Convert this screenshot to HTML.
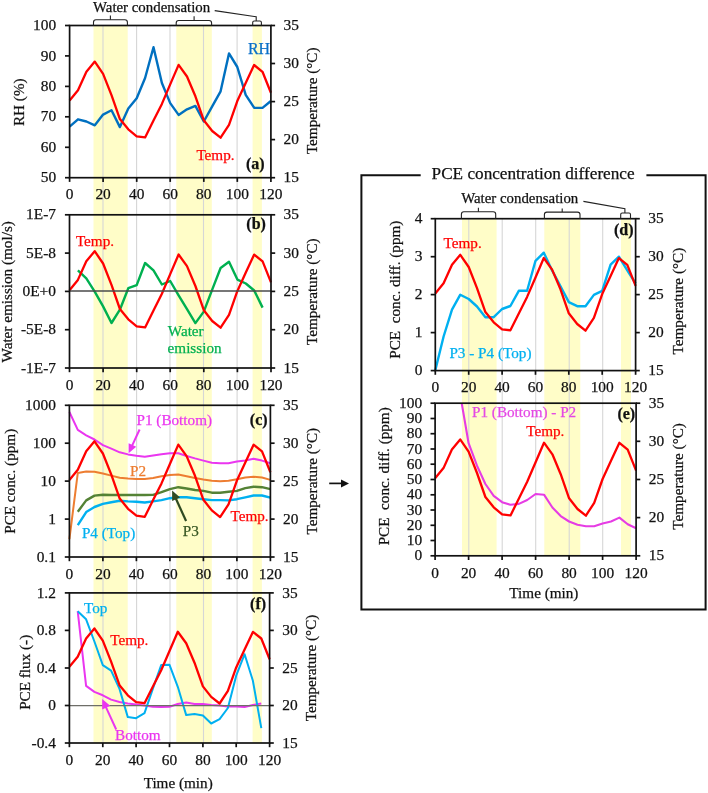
<!DOCTYPE html>
<html><head><meta charset="utf-8"><title>Chart</title>
<style>html,body{margin:0;padding:0;background:#fff;width:708px;height:793px;overflow:hidden}svg{display:block;will-change:transform}text{stroke-width:0.25px;paint-order:fill}</style>
</head><body>
<svg width="708" height="793" viewBox="0 0 708 793">
<defs>
<clipPath id="clipa"><rect x="69.6" y="25.5" width="201.3" height="152.2"/></clipPath>
<clipPath id="clipb"><rect x="69.5" y="214.8" width="201.5" height="153.2"/></clipPath>
<clipPath id="clipc"><rect x="69.4" y="405.3" width="201.0" height="151.7"/></clipPath>
<clipPath id="clipf"><rect x="69.4" y="592.9" width="200.2" height="150.1"/></clipPath>
<clipPath id="clipd"><rect x="435.3" y="218.7" width="200.3" height="151.9"/></clipPath>
<clipPath id="clipe"><rect x="435.1" y="403.2" width="201.0" height="152.6"/></clipPath>
</defs>
<rect x="93.5" y="25.5" width="34.2" height="717.5" fill="#FFFDC8"/>
<rect x="176.3" y="25.5" width="35.5" height="717.5" fill="#FFFDC8"/>
<rect x="252.6" y="25.5" width="9.3" height="717.5" fill="#FFFDC8"/>
<line x1="103.0" y1="25.5" x2="103.0" y2="743.0" stroke="#D6D6D6" stroke-width="1.1"/>
<line x1="136.6" y1="25.5" x2="136.6" y2="743.0" stroke="#D6D6D6" stroke-width="1.1"/>
<line x1="170.0" y1="25.5" x2="170.0" y2="743.0" stroke="#D6D6D6" stroke-width="1.1"/>
<line x1="203.5" y1="25.5" x2="203.5" y2="743.0" stroke="#D6D6D6" stroke-width="1.1"/>
<line x1="237.1" y1="25.5" x2="237.1" y2="743.0" stroke="#D6D6D6" stroke-width="1.1"/>
<rect x="462.0" y="218.7" width="34.6" height="337.1" fill="#FFFDC8"/>
<rect x="544.3" y="218.7" width="36.0" height="337.1" fill="#FFFDC8"/>
<rect x="621.0" y="218.7" width="10.0" height="337.1" fill="#FFFDC8"/>
<line x1="468.8" y1="218.7" x2="468.8" y2="555.8" stroke="#D6D6D6" stroke-width="1.1"/>
<line x1="502.2" y1="218.7" x2="502.2" y2="555.8" stroke="#D6D6D6" stroke-width="1.1"/>
<line x1="535.7" y1="218.7" x2="535.7" y2="555.8" stroke="#D6D6D6" stroke-width="1.1"/>
<line x1="569.2" y1="218.7" x2="569.2" y2="555.8" stroke="#D6D6D6" stroke-width="1.1"/>
<line x1="602.7" y1="218.7" x2="602.7" y2="555.8" stroke="#D6D6D6" stroke-width="1.1"/>
<polyline points="69.6,126.7 78.0,119.3 86.4,121.5 94.8,125.3 103.1,114.6 111.5,110.3 119.9,127.1 128.3,108.4 136.7,98.2 145.1,78.0 153.5,47.2 161.9,83.0 170.2,103.1 178.6,114.9 187.0,109.3 195.4,105.9 203.8,121.5 212.2,106.3 220.6,91.3 229.0,53.4 237.3,67.0 245.7,94.8 254.1,107.7 262.5,107.9 270.9,101.0" fill="none" stroke="#0070C0" stroke-width="2.4" stroke-linejoin="round"/>
<polyline points="69.6,100.4 78.0,90.2 86.4,71.7 94.8,61.6 103.1,73.9 111.5,95.1 119.9,119.1 128.3,129.3 136.7,136.3 145.1,137.4 153.5,120.6 161.9,103.9 170.2,84.4 178.6,64.9 187.0,76.5 195.4,96.3 203.8,120.3 212.2,131.0 220.6,137.7 229.0,124.9 237.3,101.1 245.7,83.0 254.1,65.0 262.5,71.8 270.9,92.7" fill="none" stroke="#FF0000" stroke-width="2.3" stroke-linejoin="round"/>
<polyline points="77.9,270.4 86.3,278.3 94.7,291.6 103.1,306.4 111.5,323.0 119.9,309.7 128.3,288.2 136.7,285.2 145.1,263.0 153.5,270.4 161.9,284.5 170.2,281.0 178.6,295.3 187.0,309.2 195.4,323.1 203.8,311.6 212.2,289.6 220.6,268.0 229.0,261.8 237.4,279.6 245.8,283.5 254.2,290.5 262.6,307.6" fill="none" stroke="#00B050" stroke-width="2.4" stroke-linejoin="round"/>
<polyline points="69.5,290.2 77.9,279.9 86.3,261.3 94.7,251.2 103.1,263.5 111.5,284.9 119.9,309.0 128.3,319.3 136.7,326.3 145.1,327.4 153.5,310.6 161.9,293.7 170.2,274.1 178.6,254.5 187.0,266.1 195.4,286.0 203.8,310.2 212.2,321.0 220.6,327.7 229.0,314.8 237.4,290.9 245.8,272.6 254.2,254.6 262.6,261.4 271.0,282.4" fill="none" stroke="#FF0000" stroke-width="2.3" stroke-linejoin="round"/>
<line x1="69.5" y1="291.0" x2="271.0" y2="291.0" stroke="#4a4a4a" stroke-width="1.4"/>
<polyline points="69.4,412.0 77.8,429.9 86.2,435.3 94.5,439.5 102.9,445.2 111.3,448.7 119.7,452.3 128.0,454.4 136.4,455.8 144.8,456.8 153.1,455.5 161.5,454.2 169.9,453.2 178.3,453.2 186.6,456.0 195.0,458.4 203.4,460.6 211.8,462.8 220.1,463.3 228.5,463.3 236.9,461.5 245.3,460.6 253.6,458.8 262.0,460.6 270.4,463.3" fill="none" stroke="#EA36F0" stroke-width="2.0" stroke-linejoin="round"/>
<polyline points="69.4,539.2 77.8,472.9 86.2,471.5 94.5,471.7 102.9,473.6 111.3,475.6 119.7,477.7 128.0,478.6 136.4,479.1 144.8,479.0 153.1,478.0 161.5,476.2 169.9,474.9 178.3,474.4 186.6,476.2 195.0,478.0 203.4,479.5 211.8,480.8 220.1,481.2 228.5,480.8 236.9,479.3 245.3,477.5 253.6,476.8 262.0,477.5 270.4,479.9" fill="none" stroke="#ED7D31" stroke-width="2.0" stroke-linejoin="round"/>
<polyline points="77.8,511.7 86.2,500.4 94.5,495.6 102.9,494.8 111.3,495.0 119.7,495.0 128.0,495.0 136.4,495.0 144.8,495.0 153.1,494.9 161.5,492.2 169.9,489.1 178.3,487.2 186.6,488.5 195.0,490.0 203.4,490.9 211.8,492.7 220.1,492.7 228.5,491.8 236.9,490.9 245.3,488.1 253.6,486.7 262.0,487.2 270.4,489.1" fill="none" stroke="#548235" stroke-width="2.4" stroke-linejoin="round"/>
<polyline points="77.8,525.1 86.2,512.1 94.5,507.0 102.9,503.9 111.3,502.2 119.7,500.8 128.0,501.4 136.4,501.8 144.8,502.5 153.1,501.4 161.5,500.1 169.9,498.2 178.3,497.3 186.6,497.3 195.0,498.2 203.4,499.2 211.8,500.1 220.1,500.1 228.5,500.4 236.9,499.2 245.3,497.3 253.6,495.5 262.0,495.5 270.4,497.7" fill="none" stroke="#00B0F0" stroke-width="2.4" stroke-linejoin="round"/>
<polyline points="69.4,479.9 77.8,469.8 86.2,451.3 94.5,441.3 102.9,453.5 111.3,474.7 119.7,498.6 128.0,508.8 136.4,515.7 144.8,516.8 153.1,500.1 161.5,483.4 169.9,464.0 178.3,444.6 186.6,456.1 195.0,475.8 203.4,499.8 211.8,510.4 220.1,517.1 228.5,504.4 236.9,480.6 245.3,462.6 253.6,444.7 262.0,451.4 270.4,472.3" fill="none" stroke="#FF0000" stroke-width="2.3" stroke-linejoin="round"/>
<polyline points="77.7,611.2 86.1,685.9 94.4,691.9 102.8,695.3 111.1,699.6 119.5,702.0 127.8,703.4 136.1,704.6 144.5,705.4 152.8,706.7 161.2,707.1 169.5,706.8 177.8,704.0 186.2,702.6 194.5,704.0 202.9,704.0 211.2,705.0 219.6,705.6 227.9,706.4 236.2,706.6 244.6,707.0 252.9,705.0 261.3,703.6" fill="none" stroke="#EA36F0" stroke-width="2.0" stroke-linejoin="round"/>
<polyline points="77.7,611.2 86.1,619.3 94.4,641.5 102.8,665.1 111.1,670.7 119.5,688.9 127.8,717.1 136.1,718.2 144.5,713.1 152.8,688.9 161.2,665.1 169.5,664.8 177.8,686.8 186.2,715.1 194.5,714.1 202.9,715.5 211.2,723.5 219.6,719.1 227.9,708.0 236.2,675.7 244.6,654.2 252.9,680.8 261.3,728.2" fill="none" stroke="#00B0F0" stroke-width="2.0" stroke-linejoin="round"/>
<polyline points="69.4,666.7 77.7,656.7 86.1,638.5 94.4,628.5 102.8,640.6 111.1,661.6 119.5,685.2 127.8,695.3 136.1,702.2 144.5,703.2 152.8,686.7 161.2,670.2 169.5,651.0 177.8,631.8 186.2,643.2 194.5,662.7 202.9,686.4 211.2,696.9 219.6,703.5 227.9,690.9 236.2,667.4 244.6,649.6 252.9,631.9 261.3,638.5 269.6,659.2" fill="none" stroke="#FF0000" stroke-width="2.3" stroke-linejoin="round"/>
<line x1="69.4" y1="705.6" x2="269.6" y2="705.6" stroke="#6e6e68" stroke-width="1.4"/>
<polyline points="435.3,370.3 443.6,336.5 452.0,309.7 460.3,294.7 468.7,299.0 477.0,306.5 485.4,317.2 493.7,317.2 502.1,309.0 510.4,306.0 518.8,290.8 527.1,290.8 535.5,260.8 543.8,252.7 552.1,270.4 560.5,286.2 568.8,302.1 577.2,306.2 585.5,306.2 593.9,294.9 602.2,290.8 610.6,264.7 618.9,256.7 627.3,270.4 635.6,283.5" fill="none" stroke="#00B0F0" stroke-width="2.4" stroke-linejoin="round"/>
<polyline points="435.3,293.4 443.6,283.3 452.0,264.8 460.3,254.8 468.7,267.0 477.0,288.2 485.4,312.1 493.7,322.3 502.1,329.3 510.4,330.3 518.8,313.6 527.1,296.9 535.5,277.5 543.8,258.0 552.1,269.6 560.5,289.3 568.8,313.3 577.2,324.0 585.5,330.7 593.9,317.9 602.2,294.1 610.6,276.0 618.9,258.1 627.3,264.9 635.6,285.8" fill="none" stroke="#FF0000" stroke-width="2.3" stroke-linejoin="round"/>
<polyline points="451.9,335.0 460.2,394.4 468.6,443.2 477.0,465.7 485.4,484.0 493.7,495.8 502.1,502.2 510.5,504.8 518.9,503.9 527.2,500.0 535.6,494.0 544.0,494.7 552.4,507.5 560.7,516.1 569.1,521.5 577.5,524.7 585.9,526.2 594.2,526.2 602.6,523.6 611.0,521.5 619.4,517.6 627.7,524.3 636.1,528.3" fill="none" stroke="#E63CE4" stroke-width="2.1" stroke-linejoin="round" clip-path="url(#clipe)"/>
<polyline points="435.1,478.3 443.5,468.1 451.9,449.5 460.2,439.4 468.6,451.7 477.0,473.0 485.4,497.0 493.7,507.3 502.1,514.3 510.5,515.4 518.9,498.6 527.2,481.8 535.6,462.3 544.0,442.7 552.4,454.3 560.7,474.2 569.1,498.3 577.5,509.0 585.9,515.7 594.2,502.8 602.6,479.0 611.0,460.8 619.4,442.8 627.7,449.6 636.1,470.6" fill="none" stroke="#FF0000" stroke-width="2.3" stroke-linejoin="round"/>
<rect x="69.6" y="25.5" width="201.3" height="152.2" fill="none" stroke="#111" stroke-width="1.7"/>
<line x1="65.0" y1="25.5" x2="69.6" y2="25.5" stroke="#111" stroke-width="1.7"/>
<text x="56.1" y="30.1" text-anchor="end" font-family="Liberation Serif, serif" font-size="15.4" fill="#111" stroke="#111">100</text>
<line x1="65.0" y1="55.9" x2="69.6" y2="55.9" stroke="#111" stroke-width="1.7"/>
<text x="56.1" y="60.5" text-anchor="end" font-family="Liberation Serif, serif" font-size="15.4" fill="#111" stroke="#111">90</text>
<line x1="65.0" y1="86.4" x2="69.6" y2="86.4" stroke="#111" stroke-width="1.7"/>
<text x="56.1" y="91.0" text-anchor="end" font-family="Liberation Serif, serif" font-size="15.4" fill="#111" stroke="#111">80</text>
<line x1="65.0" y1="116.8" x2="69.6" y2="116.8" stroke="#111" stroke-width="1.7"/>
<text x="56.1" y="121.4" text-anchor="end" font-family="Liberation Serif, serif" font-size="15.4" fill="#111" stroke="#111">70</text>
<line x1="65.0" y1="147.3" x2="69.6" y2="147.3" stroke="#111" stroke-width="1.7"/>
<text x="56.1" y="151.9" text-anchor="end" font-family="Liberation Serif, serif" font-size="15.4" fill="#111" stroke="#111">60</text>
<line x1="65.0" y1="177.7" x2="69.6" y2="177.7" stroke="#111" stroke-width="1.7"/>
<text x="56.1" y="182.3" text-anchor="end" font-family="Liberation Serif, serif" font-size="15.4" fill="#111" stroke="#111">50</text>
<line x1="270.9" y1="25.5" x2="275.1" y2="25.5" stroke="#111" stroke-width="1.7"/>
<text x="283.5" y="30.1" font-family="Liberation Serif, serif" font-size="15.4" fill="#111" stroke="#111">35</text>
<line x1="270.9" y1="63.5" x2="275.1" y2="63.5" stroke="#111" stroke-width="1.7"/>
<text x="283.5" y="68.1" font-family="Liberation Serif, serif" font-size="15.4" fill="#111" stroke="#111">30</text>
<line x1="270.9" y1="101.6" x2="275.1" y2="101.6" stroke="#111" stroke-width="1.7"/>
<text x="283.5" y="106.2" font-family="Liberation Serif, serif" font-size="15.4" fill="#111" stroke="#111">25</text>
<line x1="270.9" y1="139.6" x2="275.1" y2="139.6" stroke="#111" stroke-width="1.7"/>
<text x="283.5" y="144.2" font-family="Liberation Serif, serif" font-size="15.4" fill="#111" stroke="#111">20</text>
<line x1="270.9" y1="177.7" x2="275.1" y2="177.7" stroke="#111" stroke-width="1.7"/>
<text x="283.5" y="182.3" font-family="Liberation Serif, serif" font-size="15.4" fill="#111" stroke="#111">15</text>
<line x1="69.6" y1="177.7" x2="69.6" y2="181.9" stroke="#111" stroke-width="1.7"/>
<text x="69.6" y="199.4" text-anchor="middle" font-family="Liberation Serif, serif" font-size="15.4" fill="#111" stroke="#111">0</text>
<line x1="103.1" y1="177.7" x2="103.1" y2="181.9" stroke="#111" stroke-width="1.7"/>
<text x="103.1" y="199.4" text-anchor="middle" font-family="Liberation Serif, serif" font-size="15.4" fill="#111" stroke="#111">20</text>
<line x1="136.7" y1="177.7" x2="136.7" y2="181.9" stroke="#111" stroke-width="1.7"/>
<text x="136.7" y="199.4" text-anchor="middle" font-family="Liberation Serif, serif" font-size="15.4" fill="#111" stroke="#111">40</text>
<line x1="170.2" y1="177.7" x2="170.2" y2="181.9" stroke="#111" stroke-width="1.7"/>
<text x="170.2" y="199.4" text-anchor="middle" font-family="Liberation Serif, serif" font-size="15.4" fill="#111" stroke="#111">60</text>
<line x1="203.8" y1="177.7" x2="203.8" y2="181.9" stroke="#111" stroke-width="1.7"/>
<text x="203.8" y="199.4" text-anchor="middle" font-family="Liberation Serif, serif" font-size="15.4" fill="#111" stroke="#111">80</text>
<line x1="237.3" y1="177.7" x2="237.3" y2="181.9" stroke="#111" stroke-width="1.7"/>
<text x="237.3" y="199.4" text-anchor="middle" font-family="Liberation Serif, serif" font-size="15.4" fill="#111" stroke="#111">100</text>
<line x1="270.9" y1="177.7" x2="270.9" y2="181.9" stroke="#111" stroke-width="1.7"/>
<text x="270.9" y="199.4" text-anchor="middle" font-family="Liberation Serif, serif" font-size="15.4" fill="#111" stroke="#111">120</text>
<rect x="69.5" y="214.8" width="201.5" height="153.2" fill="none" stroke="#111" stroke-width="1.7"/>
<line x1="64.9" y1="214.8" x2="69.5" y2="214.8" stroke="#111" stroke-width="1.7"/>
<text x="56.0" y="219.4" text-anchor="end" font-family="Liberation Serif, serif" font-size="15.4" fill="#111" stroke="#111">1E-7</text>
<line x1="64.9" y1="253.1" x2="69.5" y2="253.1" stroke="#111" stroke-width="1.7"/>
<text x="56.0" y="257.7" text-anchor="end" font-family="Liberation Serif, serif" font-size="15.4" fill="#111" stroke="#111">5E-8</text>
<line x1="64.9" y1="291.4" x2="69.5" y2="291.4" stroke="#111" stroke-width="1.7"/>
<text x="56.0" y="296.0" text-anchor="end" font-family="Liberation Serif, serif" font-size="15.4" fill="#111" stroke="#111">0E+0</text>
<line x1="64.9" y1="329.7" x2="69.5" y2="329.7" stroke="#111" stroke-width="1.7"/>
<text x="56.0" y="334.3" text-anchor="end" font-family="Liberation Serif, serif" font-size="15.4" fill="#111" stroke="#111">-5E-8</text>
<line x1="64.9" y1="368.0" x2="69.5" y2="368.0" stroke="#111" stroke-width="1.7"/>
<text x="56.0" y="372.6" text-anchor="end" font-family="Liberation Serif, serif" font-size="15.4" fill="#111" stroke="#111">-1E-7</text>
<line x1="271.0" y1="214.8" x2="275.2" y2="214.8" stroke="#111" stroke-width="1.7"/>
<text x="283.6" y="219.4" font-family="Liberation Serif, serif" font-size="15.4" fill="#111" stroke="#111">35</text>
<line x1="271.0" y1="253.1" x2="275.2" y2="253.1" stroke="#111" stroke-width="1.7"/>
<text x="283.6" y="257.7" font-family="Liberation Serif, serif" font-size="15.4" fill="#111" stroke="#111">30</text>
<line x1="271.0" y1="291.4" x2="275.2" y2="291.4" stroke="#111" stroke-width="1.7"/>
<text x="283.6" y="296.0" font-family="Liberation Serif, serif" font-size="15.4" fill="#111" stroke="#111">25</text>
<line x1="271.0" y1="329.7" x2="275.2" y2="329.7" stroke="#111" stroke-width="1.7"/>
<text x="283.6" y="334.3" font-family="Liberation Serif, serif" font-size="15.4" fill="#111" stroke="#111">20</text>
<line x1="271.0" y1="368.0" x2="275.2" y2="368.0" stroke="#111" stroke-width="1.7"/>
<text x="283.6" y="372.6" font-family="Liberation Serif, serif" font-size="15.4" fill="#111" stroke="#111">15</text>
<line x1="69.5" y1="368.0" x2="69.5" y2="372.2" stroke="#111" stroke-width="1.7"/>
<text x="69.5" y="389.7" text-anchor="middle" font-family="Liberation Serif, serif" font-size="15.4" fill="#111" stroke="#111">0</text>
<line x1="103.1" y1="368.0" x2="103.1" y2="372.2" stroke="#111" stroke-width="1.7"/>
<text x="103.1" y="389.7" text-anchor="middle" font-family="Liberation Serif, serif" font-size="15.4" fill="#111" stroke="#111">20</text>
<line x1="136.7" y1="368.0" x2="136.7" y2="372.2" stroke="#111" stroke-width="1.7"/>
<text x="136.7" y="389.7" text-anchor="middle" font-family="Liberation Serif, serif" font-size="15.4" fill="#111" stroke="#111">40</text>
<line x1="170.2" y1="368.0" x2="170.2" y2="372.2" stroke="#111" stroke-width="1.7"/>
<text x="170.2" y="389.7" text-anchor="middle" font-family="Liberation Serif, serif" font-size="15.4" fill="#111" stroke="#111">60</text>
<line x1="203.8" y1="368.0" x2="203.8" y2="372.2" stroke="#111" stroke-width="1.7"/>
<text x="203.8" y="389.7" text-anchor="middle" font-family="Liberation Serif, serif" font-size="15.4" fill="#111" stroke="#111">80</text>
<line x1="237.4" y1="368.0" x2="237.4" y2="372.2" stroke="#111" stroke-width="1.7"/>
<text x="237.4" y="389.7" text-anchor="middle" font-family="Liberation Serif, serif" font-size="15.4" fill="#111" stroke="#111">100</text>
<line x1="271.0" y1="368.0" x2="271.0" y2="372.2" stroke="#111" stroke-width="1.7"/>
<text x="271.0" y="389.7" text-anchor="middle" font-family="Liberation Serif, serif" font-size="15.4" fill="#111" stroke="#111">120</text>
<rect x="69.4" y="405.3" width="201.0" height="151.7" fill="none" stroke="#111" stroke-width="1.7"/>
<line x1="64.8" y1="405.3" x2="69.4" y2="405.3" stroke="#111" stroke-width="1.7"/>
<text x="55.9" y="409.9" text-anchor="end" font-family="Liberation Serif, serif" font-size="15.4" fill="#111" stroke="#111">1000</text>
<line x1="64.8" y1="443.2" x2="69.4" y2="443.2" stroke="#111" stroke-width="1.7"/>
<text x="55.9" y="447.8" text-anchor="end" font-family="Liberation Serif, serif" font-size="15.4" fill="#111" stroke="#111">100</text>
<line x1="64.8" y1="481.1" x2="69.4" y2="481.1" stroke="#111" stroke-width="1.7"/>
<text x="55.9" y="485.8" text-anchor="end" font-family="Liberation Serif, serif" font-size="15.4" fill="#111" stroke="#111">10</text>
<line x1="64.8" y1="519.1" x2="69.4" y2="519.1" stroke="#111" stroke-width="1.7"/>
<text x="55.9" y="523.7" text-anchor="end" font-family="Liberation Serif, serif" font-size="15.4" fill="#111" stroke="#111">1</text>
<line x1="64.8" y1="557.0" x2="69.4" y2="557.0" stroke="#111" stroke-width="1.7"/>
<text x="55.9" y="561.6" text-anchor="end" font-family="Liberation Serif, serif" font-size="15.4" fill="#111" stroke="#111">0.1</text>
<line x1="270.4" y1="405.3" x2="274.6" y2="405.3" stroke="#111" stroke-width="1.7"/>
<text x="283.0" y="409.9" font-family="Liberation Serif, serif" font-size="15.4" fill="#111" stroke="#111">35</text>
<line x1="270.4" y1="443.2" x2="274.6" y2="443.2" stroke="#111" stroke-width="1.7"/>
<text x="283.0" y="447.8" font-family="Liberation Serif, serif" font-size="15.4" fill="#111" stroke="#111">30</text>
<line x1="270.4" y1="481.1" x2="274.6" y2="481.1" stroke="#111" stroke-width="1.7"/>
<text x="283.0" y="485.8" font-family="Liberation Serif, serif" font-size="15.4" fill="#111" stroke="#111">25</text>
<line x1="270.4" y1="519.1" x2="274.6" y2="519.1" stroke="#111" stroke-width="1.7"/>
<text x="283.0" y="523.7" font-family="Liberation Serif, serif" font-size="15.4" fill="#111" stroke="#111">20</text>
<line x1="270.4" y1="557.0" x2="274.6" y2="557.0" stroke="#111" stroke-width="1.7"/>
<text x="283.0" y="561.6" font-family="Liberation Serif, serif" font-size="15.4" fill="#111" stroke="#111">15</text>
<line x1="69.4" y1="557.0" x2="69.4" y2="561.2" stroke="#111" stroke-width="1.7"/>
<text x="69.4" y="578.7" text-anchor="middle" font-family="Liberation Serif, serif" font-size="15.4" fill="#111" stroke="#111">0</text>
<line x1="102.9" y1="557.0" x2="102.9" y2="561.2" stroke="#111" stroke-width="1.7"/>
<text x="102.9" y="578.7" text-anchor="middle" font-family="Liberation Serif, serif" font-size="15.4" fill="#111" stroke="#111">20</text>
<line x1="136.4" y1="557.0" x2="136.4" y2="561.2" stroke="#111" stroke-width="1.7"/>
<text x="136.4" y="578.7" text-anchor="middle" font-family="Liberation Serif, serif" font-size="15.4" fill="#111" stroke="#111">40</text>
<line x1="169.9" y1="557.0" x2="169.9" y2="561.2" stroke="#111" stroke-width="1.7"/>
<text x="169.9" y="578.7" text-anchor="middle" font-family="Liberation Serif, serif" font-size="15.4" fill="#111" stroke="#111">60</text>
<line x1="203.4" y1="557.0" x2="203.4" y2="561.2" stroke="#111" stroke-width="1.7"/>
<text x="203.4" y="578.7" text-anchor="middle" font-family="Liberation Serif, serif" font-size="15.4" fill="#111" stroke="#111">80</text>
<line x1="236.9" y1="557.0" x2="236.9" y2="561.2" stroke="#111" stroke-width="1.7"/>
<text x="236.9" y="578.7" text-anchor="middle" font-family="Liberation Serif, serif" font-size="15.4" fill="#111" stroke="#111">100</text>
<line x1="270.4" y1="557.0" x2="270.4" y2="561.2" stroke="#111" stroke-width="1.7"/>
<text x="270.4" y="578.7" text-anchor="middle" font-family="Liberation Serif, serif" font-size="15.4" fill="#111" stroke="#111">120</text>
<rect x="69.4" y="592.9" width="200.2" height="150.1" fill="none" stroke="#111" stroke-width="1.7"/>
<line x1="64.8" y1="592.9" x2="69.4" y2="592.9" stroke="#111" stroke-width="1.7"/>
<text x="55.9" y="597.5" text-anchor="end" font-family="Liberation Serif, serif" font-size="15.4" fill="#111" stroke="#111">1.2</text>
<line x1="64.8" y1="630.4" x2="69.4" y2="630.4" stroke="#111" stroke-width="1.7"/>
<text x="55.9" y="635.0" text-anchor="end" font-family="Liberation Serif, serif" font-size="15.4" fill="#111" stroke="#111">0.8</text>
<line x1="64.8" y1="668.0" x2="69.4" y2="668.0" stroke="#111" stroke-width="1.7"/>
<text x="55.9" y="672.6" text-anchor="end" font-family="Liberation Serif, serif" font-size="15.4" fill="#111" stroke="#111">0.4</text>
<line x1="64.8" y1="705.5" x2="69.4" y2="705.5" stroke="#111" stroke-width="1.7"/>
<text x="55.9" y="710.1" text-anchor="end" font-family="Liberation Serif, serif" font-size="15.4" fill="#111" stroke="#111">0</text>
<line x1="64.8" y1="743.0" x2="69.4" y2="743.0" stroke="#111" stroke-width="1.7"/>
<text x="55.9" y="747.6" text-anchor="end" font-family="Liberation Serif, serif" font-size="15.4" fill="#111" stroke="#111">-0.4</text>
<line x1="269.6" y1="592.9" x2="273.8" y2="592.9" stroke="#111" stroke-width="1.7"/>
<text x="282.2" y="597.5" font-family="Liberation Serif, serif" font-size="15.4" fill="#111" stroke="#111">35</text>
<line x1="269.6" y1="630.4" x2="273.8" y2="630.4" stroke="#111" stroke-width="1.7"/>
<text x="282.2" y="635.0" font-family="Liberation Serif, serif" font-size="15.4" fill="#111" stroke="#111">30</text>
<line x1="269.6" y1="668.0" x2="273.8" y2="668.0" stroke="#111" stroke-width="1.7"/>
<text x="282.2" y="672.6" font-family="Liberation Serif, serif" font-size="15.4" fill="#111" stroke="#111">25</text>
<line x1="269.6" y1="705.5" x2="273.8" y2="705.5" stroke="#111" stroke-width="1.7"/>
<text x="282.2" y="710.1" font-family="Liberation Serif, serif" font-size="15.4" fill="#111" stroke="#111">20</text>
<line x1="269.6" y1="743.0" x2="273.8" y2="743.0" stroke="#111" stroke-width="1.7"/>
<text x="282.2" y="747.6" font-family="Liberation Serif, serif" font-size="15.4" fill="#111" stroke="#111">15</text>
<line x1="69.4" y1="743.0" x2="69.4" y2="747.2" stroke="#111" stroke-width="1.7"/>
<text x="69.4" y="764.7" text-anchor="middle" font-family="Liberation Serif, serif" font-size="15.4" fill="#111" stroke="#111">0</text>
<line x1="102.8" y1="743.0" x2="102.8" y2="747.2" stroke="#111" stroke-width="1.7"/>
<text x="102.8" y="764.7" text-anchor="middle" font-family="Liberation Serif, serif" font-size="15.4" fill="#111" stroke="#111">20</text>
<line x1="136.1" y1="743.0" x2="136.1" y2="747.2" stroke="#111" stroke-width="1.7"/>
<text x="136.1" y="764.7" text-anchor="middle" font-family="Liberation Serif, serif" font-size="15.4" fill="#111" stroke="#111">40</text>
<line x1="169.5" y1="743.0" x2="169.5" y2="747.2" stroke="#111" stroke-width="1.7"/>
<text x="169.5" y="764.7" text-anchor="middle" font-family="Liberation Serif, serif" font-size="15.4" fill="#111" stroke="#111">60</text>
<line x1="202.9" y1="743.0" x2="202.9" y2="747.2" stroke="#111" stroke-width="1.7"/>
<text x="202.9" y="764.7" text-anchor="middle" font-family="Liberation Serif, serif" font-size="15.4" fill="#111" stroke="#111">80</text>
<line x1="236.2" y1="743.0" x2="236.2" y2="747.2" stroke="#111" stroke-width="1.7"/>
<text x="236.2" y="764.7" text-anchor="middle" font-family="Liberation Serif, serif" font-size="15.4" fill="#111" stroke="#111">100</text>
<line x1="269.6" y1="743.0" x2="269.6" y2="747.2" stroke="#111" stroke-width="1.7"/>
<text x="269.6" y="764.7" text-anchor="middle" font-family="Liberation Serif, serif" font-size="15.4" fill="#111" stroke="#111">120</text>
<rect x="435.3" y="218.7" width="200.3" height="151.9" fill="none" stroke="#111" stroke-width="1.7"/>
<line x1="430.7" y1="218.7" x2="435.3" y2="218.7" stroke="#111" stroke-width="1.7"/>
<text x="422.4" y="223.3" text-anchor="end" font-family="Liberation Serif, serif" font-size="15.4" fill="#111" stroke="#111">4</text>
<line x1="430.7" y1="256.7" x2="435.3" y2="256.7" stroke="#111" stroke-width="1.7"/>
<text x="422.4" y="261.3" text-anchor="end" font-family="Liberation Serif, serif" font-size="15.4" fill="#111" stroke="#111">3</text>
<line x1="430.7" y1="294.6" x2="435.3" y2="294.6" stroke="#111" stroke-width="1.7"/>
<text x="422.4" y="299.2" text-anchor="end" font-family="Liberation Serif, serif" font-size="15.4" fill="#111" stroke="#111">2</text>
<line x1="430.7" y1="332.6" x2="435.3" y2="332.6" stroke="#111" stroke-width="1.7"/>
<text x="422.4" y="337.2" text-anchor="end" font-family="Liberation Serif, serif" font-size="15.4" fill="#111" stroke="#111">1</text>
<line x1="430.7" y1="370.6" x2="435.3" y2="370.6" stroke="#111" stroke-width="1.7"/>
<text x="422.4" y="375.2" text-anchor="end" font-family="Liberation Serif, serif" font-size="15.4" fill="#111" stroke="#111">0</text>
<line x1="635.6" y1="218.7" x2="639.8" y2="218.7" stroke="#111" stroke-width="1.7"/>
<text x="648.2" y="223.3" font-family="Liberation Serif, serif" font-size="15.4" fill="#111" stroke="#111">35</text>
<line x1="635.6" y1="256.7" x2="639.8" y2="256.7" stroke="#111" stroke-width="1.7"/>
<text x="648.2" y="261.3" font-family="Liberation Serif, serif" font-size="15.4" fill="#111" stroke="#111">30</text>
<line x1="635.6" y1="294.6" x2="639.8" y2="294.6" stroke="#111" stroke-width="1.7"/>
<text x="648.2" y="299.2" font-family="Liberation Serif, serif" font-size="15.4" fill="#111" stroke="#111">25</text>
<line x1="635.6" y1="332.6" x2="639.8" y2="332.6" stroke="#111" stroke-width="1.7"/>
<text x="648.2" y="337.2" font-family="Liberation Serif, serif" font-size="15.4" fill="#111" stroke="#111">20</text>
<line x1="635.6" y1="370.6" x2="639.8" y2="370.6" stroke="#111" stroke-width="1.7"/>
<text x="648.2" y="375.2" font-family="Liberation Serif, serif" font-size="15.4" fill="#111" stroke="#111">15</text>
<line x1="435.3" y1="370.6" x2="435.3" y2="374.8" stroke="#111" stroke-width="1.7"/>
<text x="435.3" y="392.3" text-anchor="middle" font-family="Liberation Serif, serif" font-size="15.4" fill="#111" stroke="#111">0</text>
<line x1="468.7" y1="370.6" x2="468.7" y2="374.8" stroke="#111" stroke-width="1.7"/>
<text x="468.7" y="392.3" text-anchor="middle" font-family="Liberation Serif, serif" font-size="15.4" fill="#111" stroke="#111">20</text>
<line x1="502.1" y1="370.6" x2="502.1" y2="374.8" stroke="#111" stroke-width="1.7"/>
<text x="502.1" y="392.3" text-anchor="middle" font-family="Liberation Serif, serif" font-size="15.4" fill="#111" stroke="#111">40</text>
<line x1="535.5" y1="370.6" x2="535.5" y2="374.8" stroke="#111" stroke-width="1.7"/>
<text x="535.5" y="392.3" text-anchor="middle" font-family="Liberation Serif, serif" font-size="15.4" fill="#111" stroke="#111">60</text>
<line x1="568.8" y1="370.6" x2="568.8" y2="374.8" stroke="#111" stroke-width="1.7"/>
<text x="568.8" y="392.3" text-anchor="middle" font-family="Liberation Serif, serif" font-size="15.4" fill="#111" stroke="#111">80</text>
<line x1="602.2" y1="370.6" x2="602.2" y2="374.8" stroke="#111" stroke-width="1.7"/>
<text x="602.2" y="392.3" text-anchor="middle" font-family="Liberation Serif, serif" font-size="15.4" fill="#111" stroke="#111">100</text>
<line x1="635.6" y1="370.6" x2="635.6" y2="374.8" stroke="#111" stroke-width="1.7"/>
<text x="635.6" y="392.3" text-anchor="middle" font-family="Liberation Serif, serif" font-size="15.4" fill="#111" stroke="#111">120</text>
<rect x="435.1" y="403.2" width="201.0" height="152.6" fill="none" stroke="#111" stroke-width="1.7"/>
<line x1="430.5" y1="403.2" x2="435.1" y2="403.2" stroke="#111" stroke-width="1.7"/>
<text x="422.2" y="407.8" text-anchor="end" font-family="Liberation Serif, serif" font-size="15.4" fill="#111" stroke="#111">100</text>
<line x1="430.5" y1="418.5" x2="435.1" y2="418.5" stroke="#111" stroke-width="1.7"/>
<text x="422.2" y="423.1" text-anchor="end" font-family="Liberation Serif, serif" font-size="15.4" fill="#111" stroke="#111">90</text>
<line x1="430.5" y1="433.7" x2="435.1" y2="433.7" stroke="#111" stroke-width="1.7"/>
<text x="422.2" y="438.3" text-anchor="end" font-family="Liberation Serif, serif" font-size="15.4" fill="#111" stroke="#111">80</text>
<line x1="430.5" y1="449.0" x2="435.1" y2="449.0" stroke="#111" stroke-width="1.7"/>
<text x="422.2" y="453.6" text-anchor="end" font-family="Liberation Serif, serif" font-size="15.4" fill="#111" stroke="#111">70</text>
<line x1="430.5" y1="464.2" x2="435.1" y2="464.2" stroke="#111" stroke-width="1.7"/>
<text x="422.2" y="468.8" text-anchor="end" font-family="Liberation Serif, serif" font-size="15.4" fill="#111" stroke="#111">60</text>
<line x1="430.5" y1="479.5" x2="435.1" y2="479.5" stroke="#111" stroke-width="1.7"/>
<text x="422.2" y="484.1" text-anchor="end" font-family="Liberation Serif, serif" font-size="15.4" fill="#111" stroke="#111">50</text>
<line x1="430.5" y1="494.8" x2="435.1" y2="494.8" stroke="#111" stroke-width="1.7"/>
<text x="422.2" y="499.4" text-anchor="end" font-family="Liberation Serif, serif" font-size="15.4" fill="#111" stroke="#111">40</text>
<line x1="430.5" y1="510.0" x2="435.1" y2="510.0" stroke="#111" stroke-width="1.7"/>
<text x="422.2" y="514.6" text-anchor="end" font-family="Liberation Serif, serif" font-size="15.4" fill="#111" stroke="#111">30</text>
<line x1="430.5" y1="525.3" x2="435.1" y2="525.3" stroke="#111" stroke-width="1.7"/>
<text x="422.2" y="529.9" text-anchor="end" font-family="Liberation Serif, serif" font-size="15.4" fill="#111" stroke="#111">20</text>
<line x1="430.5" y1="540.5" x2="435.1" y2="540.5" stroke="#111" stroke-width="1.7"/>
<text x="422.2" y="545.1" text-anchor="end" font-family="Liberation Serif, serif" font-size="15.4" fill="#111" stroke="#111">10</text>
<line x1="430.5" y1="555.8" x2="435.1" y2="555.8" stroke="#111" stroke-width="1.7"/>
<text x="422.2" y="560.4" text-anchor="end" font-family="Liberation Serif, serif" font-size="15.4" fill="#111" stroke="#111">0</text>
<line x1="636.1" y1="403.2" x2="640.3" y2="403.2" stroke="#111" stroke-width="1.7"/>
<text x="648.7" y="407.8" font-family="Liberation Serif, serif" font-size="15.4" fill="#111" stroke="#111">35</text>
<line x1="636.1" y1="441.3" x2="640.3" y2="441.3" stroke="#111" stroke-width="1.7"/>
<text x="648.7" y="445.9" font-family="Liberation Serif, serif" font-size="15.4" fill="#111" stroke="#111">30</text>
<line x1="636.1" y1="479.5" x2="640.3" y2="479.5" stroke="#111" stroke-width="1.7"/>
<text x="648.7" y="484.1" font-family="Liberation Serif, serif" font-size="15.4" fill="#111" stroke="#111">25</text>
<line x1="636.1" y1="517.6" x2="640.3" y2="517.6" stroke="#111" stroke-width="1.7"/>
<text x="648.7" y="522.2" font-family="Liberation Serif, serif" font-size="15.4" fill="#111" stroke="#111">20</text>
<line x1="636.1" y1="555.8" x2="640.3" y2="555.8" stroke="#111" stroke-width="1.7"/>
<text x="648.7" y="560.4" font-family="Liberation Serif, serif" font-size="15.4" fill="#111" stroke="#111">15</text>
<line x1="435.1" y1="555.8" x2="435.1" y2="560.0" stroke="#111" stroke-width="1.7"/>
<text x="435.1" y="577.5" text-anchor="middle" font-family="Liberation Serif, serif" font-size="15.4" fill="#111" stroke="#111">0</text>
<line x1="468.6" y1="555.8" x2="468.6" y2="560.0" stroke="#111" stroke-width="1.7"/>
<text x="468.6" y="577.5" text-anchor="middle" font-family="Liberation Serif, serif" font-size="15.4" fill="#111" stroke="#111">20</text>
<line x1="502.1" y1="555.8" x2="502.1" y2="560.0" stroke="#111" stroke-width="1.7"/>
<text x="502.1" y="577.5" text-anchor="middle" font-family="Liberation Serif, serif" font-size="15.4" fill="#111" stroke="#111">40</text>
<line x1="535.6" y1="555.8" x2="535.6" y2="560.0" stroke="#111" stroke-width="1.7"/>
<text x="535.6" y="577.5" text-anchor="middle" font-family="Liberation Serif, serif" font-size="15.4" fill="#111" stroke="#111">60</text>
<line x1="569.1" y1="555.8" x2="569.1" y2="560.0" stroke="#111" stroke-width="1.7"/>
<text x="569.1" y="577.5" text-anchor="middle" font-family="Liberation Serif, serif" font-size="15.4" fill="#111" stroke="#111">80</text>
<line x1="602.6" y1="555.8" x2="602.6" y2="560.0" stroke="#111" stroke-width="1.7"/>
<text x="602.6" y="577.5" text-anchor="middle" font-family="Liberation Serif, serif" font-size="15.4" fill="#111" stroke="#111">100</text>
<line x1="636.1" y1="555.8" x2="636.1" y2="560.0" stroke="#111" stroke-width="1.7"/>
<text x="636.1" y="577.5" text-anchor="middle" font-family="Liberation Serif, serif" font-size="15.4" fill="#111" stroke="#111">120</text>
<text transform="translate(24.1,102.2) rotate(-90)" text-anchor="middle" font-family="Liberation Serif, serif" font-size="15.2" fill="#111" stroke="#111">RH (%)</text>
<text transform="translate(12.1,291.8) rotate(-90)" text-anchor="middle" font-family="Liberation Serif, serif" font-size="15.2" fill="#111" stroke="#111">Water emission (mol/s)</text>
<text transform="translate(15.4,481.3) rotate(-90)" text-anchor="middle" font-family="Liberation Serif, serif" font-size="15.2" fill="#111" stroke="#111">PCE conc. (ppm)</text>
<text transform="translate(29.7,672.3) rotate(-90)" text-anchor="middle" font-family="Liberation Serif, serif" font-size="15.2" fill="#111" stroke="#111">PCE flux (-)</text>
<text transform="translate(400.3,289.7) rotate(-90)" text-anchor="middle" font-family="Liberation Serif, serif" font-size="15.2" fill="#111" stroke="#111">PCE&#160; conc. diff. (ppm)</text>
<text transform="translate(388.6,476.3) rotate(-90)" text-anchor="middle" font-family="Liberation Serif, serif" font-size="15.2" fill="#111" stroke="#111">PCE&#160; conc. diff. (ppm)</text>
<text transform="translate(317.4,100.8) rotate(-90)" text-anchor="middle" font-family="Liberation Serif, serif" font-size="15.2" fill="#111" stroke="#111">Temperature (°C)</text>
<text transform="translate(317.4,291.7) rotate(-90)" text-anchor="middle" font-family="Liberation Serif, serif" font-size="15.2" fill="#111" stroke="#111">Temperature (°C)</text>
<text transform="translate(317.4,481.2) rotate(-90)" text-anchor="middle" font-family="Liberation Serif, serif" font-size="15.2" fill="#111" stroke="#111">Temperature (°C)</text>
<text transform="translate(316.1,668.0) rotate(-90)" text-anchor="middle" font-family="Liberation Serif, serif" font-size="15.2" fill="#111" stroke="#111">Temperature (°C)</text>
<text transform="translate(682.9,301.1) rotate(-90)" text-anchor="middle" font-family="Liberation Serif, serif" font-size="15.2" fill="#111" stroke="#111">Temperature (°C)</text>
<text transform="translate(682.9,476.4) rotate(-90)" text-anchor="middle" font-family="Liberation Serif, serif" font-size="15.2" fill="#111" stroke="#111">Temperature (°C)</text>
<text x="178.2" y="788.4" font-family="Liberation Serif, serif" font-size="15.2" fill="#111" stroke="#111" text-anchor="middle">Time (min)</text>
<text x="543.9" y="598.2" font-family="Liberation Serif, serif" font-size="15.2" fill="#111" stroke="#111" text-anchor="middle">Time (min)</text>
<text x="264.6" y="168.8" font-family="Liberation Serif, serif" font-size="16" fill="#111" stroke="#111" font-weight="bold" text-anchor="end">(a)</text>
<text x="265.9" y="229.2" font-family="Liberation Serif, serif" font-size="16" fill="#111" stroke="#111" font-weight="bold" text-anchor="end">(b)</text>
<text x="267.6" y="424.6" font-family="Liberation Serif, serif" font-size="16" fill="#111" stroke="#111" font-weight="bold" text-anchor="end">(c)</text>
<text x="266.1" y="608.5" font-family="Liberation Serif, serif" font-size="16" fill="#111" stroke="#111" font-weight="bold" text-anchor="end">(f)</text>
<text x="633.6" y="234.8" font-family="Liberation Serif, serif" font-size="16" fill="#111" stroke="#111" font-weight="bold" text-anchor="end">(d)</text>
<text x="635.2" y="418.5" font-family="Liberation Serif, serif" font-size="16" fill="#111" stroke="#111" font-weight="bold" text-anchor="end">(e)</text>
<text x="248.0" y="53.5" font-family="Liberation Serif, serif" font-size="15.9" fill="#0A70C8" stroke="#0A70C8" text-anchor="start">RH</text>
<text x="196.4" y="160.4" font-family="Liberation Serif, serif" font-size="15.2" fill="#FF0000" stroke="#FF0000" text-anchor="start">Temp.</text>
<text x="75.9" y="246.1" font-family="Liberation Serif, serif" font-size="15.2" fill="#FF0000" stroke="#FF0000" text-anchor="start">Temp.</text>
<text x="167.8" y="336.1" font-family="Liberation Serif, serif" font-size="15.2" fill="#00B050" stroke="#00B050" text-anchor="start">Water</text>
<text x="167.6" y="353.0" font-family="Liberation Serif, serif" font-size="15.2" fill="#00B050" stroke="#00B050" text-anchor="start">emission</text>
<text x="136.5" y="424.8" font-family="Liberation Serif, serif" font-size="15.2" fill="#EA36F0" stroke="#EA36F0" text-anchor="start">P1 (Bottom)</text>
<text x="130.0" y="476.3" font-family="Liberation Serif, serif" font-size="15.2" fill="#ED7D31" stroke="#ED7D31" text-anchor="start">P2</text>
<text x="182.8" y="535.5" font-family="Liberation Serif, serif" font-size="15.2" fill="#375623" stroke="#375623" text-anchor="start">P3</text>
<text x="81.9" y="537.7" font-family="Liberation Serif, serif" font-size="15.2" fill="#00B0F0" stroke="#00B0F0" text-anchor="start">P4 (Top)</text>
<text x="230.5" y="521.0" font-family="Liberation Serif, serif" font-size="15.2" fill="#FF0000" stroke="#FF0000" text-anchor="start">Temp.</text>
<text x="84.0" y="612.5" font-family="Liberation Serif, serif" font-size="15.2" fill="#00B0F0" stroke="#00B0F0" text-anchor="start">Top</text>
<text x="110.2" y="644.6" font-family="Liberation Serif, serif" font-size="15.2" fill="#FF0000" stroke="#FF0000" text-anchor="start">Temp.</text>
<text x="115.0" y="739.7" font-family="Liberation Serif, serif" font-size="15.2" fill="#EA36F0" stroke="#EA36F0" text-anchor="start">Bottom</text>
<text x="443.6" y="247.7" font-family="Liberation Serif, serif" font-size="15.2" fill="#FF0000" stroke="#FF0000" text-anchor="start">Temp.</text>
<text x="449.4" y="357.9" font-family="Liberation Serif, serif" font-size="15.2" fill="#00B0F0" stroke="#00B0F0" text-anchor="start">P3 - P4 (Top)</text>
<text x="472.0" y="417.3" font-family="Liberation Serif, serif" font-size="15.2" fill="#E448E4" stroke="#E448E4" text-anchor="start">P1 (Bottom) - P2</text>
<text x="526.2" y="436.4" font-family="Liberation Serif, serif" font-size="15.2" fill="#FF0000" stroke="#FF0000" text-anchor="start">Temp.</text>
<line x1="139.6" y1="429.5" x2="132.0" y2="445.9" stroke="#EA36F0" stroke-width="2.0"/><polygon points="128.6,453.2 128.6,443.3 136.2,446.8" fill="#EA36F0"/>
<line x1="186.1" y1="521.0" x2="175.7" y2="498.3" stroke="#2f4a22" stroke-width="2.2"/><polygon points="172.1,490.6 180.1,497.4 172.1,501.1" fill="#2f4a22"/>
<line x1="116.2" y1="729.5" x2="105.7" y2="706.7" stroke="#EA36F0" stroke-width="2.0"/><polygon points="102.2,699.0 110.2,705.8 102.2,709.5" fill="#EA36F0"/>
<text x="93.0" y="11.6" font-family="Liberation Serif, serif" font-size="14.85" fill="#111" stroke="#111" text-anchor="start">Water condensation</text>
<path d="M93.5,25.5 L93.5,22.3 Q93.5,19.8 96.0,19.8 L124.9,19.8 Q127.4,19.8 127.4,22.3 L127.4,25.5" fill="none" stroke="#222" stroke-width="1.1"/><line x1="110.4" y1="19.8" x2="110.4" y2="15.5" stroke="#222" stroke-width="1.1"/>
<path d="M176.2,25.5 L176.2,23.0 Q176.2,20.5 178.7,20.5 L209.1,20.5 Q211.6,20.5 211.6,23.0 L211.6,25.5" fill="none" stroke="#222" stroke-width="1.1"/><line x1="194.1" y1="20.5" x2="194.1" y2="16.3" stroke="#222" stroke-width="1.1"/>
<path d="M252.7,25.5 L252.7,22.5 Q252.7,21.0 254.2,21.0 L259.9,21.0 Q261.4,21.0 261.4,22.5 L261.4,25.5" fill="none" stroke="#222" stroke-width="1.1"/>
<polyline points="214.7,10.6 256.2,16.8 256.2,21" fill="none" stroke="#222" stroke-width="1.1"/>
<text x="461.2" y="203.2" font-family="Liberation Serif, serif" font-size="14.85" fill="#111" stroke="#111" text-anchor="start">Water condensation</text>
<path d="M461.4,218.7 L461.4,214.2 Q461.4,211.7 463.9,211.7 L493.2,211.7 Q495.7,211.7 495.7,214.2 L495.7,218.7" fill="none" stroke="#222" stroke-width="1.1"/><line x1="478.4" y1="211.7" x2="478.4" y2="207.8" stroke="#222" stroke-width="1.1"/>
<path d="M544.4,218.7 L544.4,214.6 Q544.4,212.1 546.9,212.1 L577.5,212.1 Q580.0,212.1 580.0,214.6 L580.0,218.7" fill="none" stroke="#222" stroke-width="1.1"/><line x1="562.2" y1="212.1" x2="562.2" y2="208.4" stroke="#222" stroke-width="1.1"/>
<path d="M620.7,218.7 L620.7,214.5 Q620.7,213.0 622.2,213.0 L629.0,213.0 Q630.5,213.0 630.5,214.5 L630.5,218.7" fill="none" stroke="#222" stroke-width="1.1"/>
<polyline points="583.4,201.4 624.9,208.7 624.9,213" fill="none" stroke="#222" stroke-width="1.1"/>
<text x="431.6" y="178.8" font-family="Liberation Serif, serif" font-size="17.2" fill="#111" stroke="#111" text-anchor="start">PCE concentration difference</text>
<polyline points="420.7,175.3 361.4,175.3 361.4,609.6 705.6,609.6 705.6,175.3 646.4,175.3" fill="none" stroke="#111" stroke-width="2"/>
<line x1="329.2" y1="483.4" x2="342.0" y2="483.4" stroke="#111" stroke-width="1.7"/><polygon points="349.0,483.4 341.0,487.4 341.0,479.4" fill="#111"/>
</svg>
</body></html>
